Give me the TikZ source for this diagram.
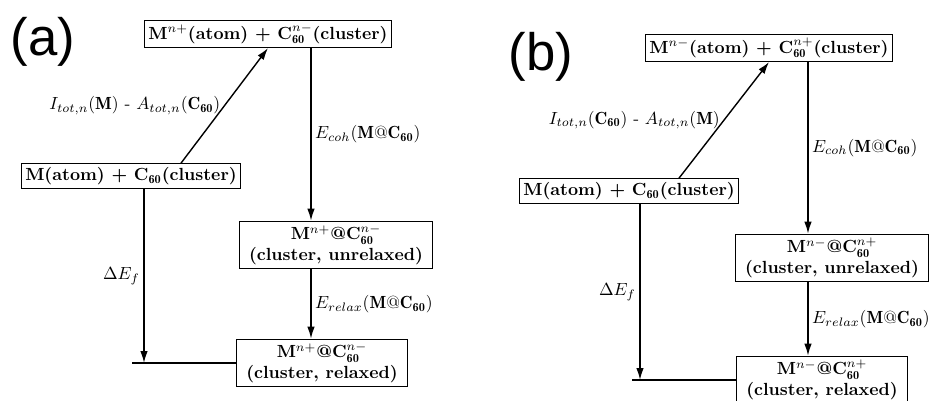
\documentclass[tikz,border=0pt]{standalone}
\usepackage{amsmath}
\usepackage{fontspec}
\usepackage{tikz}
\usetikzlibrary{arrows.meta,positioning,calc}
\newfontfamily\panelfont{Liberation Sans}
\tikzset{
  state/.style={draw, line width=0.6pt, inner sep=2pt, align=center, font=\bfseries},
  cage/.style={state, inner xsep=5.5pt},
  flow/.style={-{Latex[length=2.4mm,width=1.5mm]}, line width=0.8pt},
  tag/.style={font=\normalsize, inner sep=2pt},
  panel/.style={font=\panelfont\fontsize{30}{32}\selectfont},
}

\begin{document}
\begin{tikzpicture}[x=0.02cm, y=-0.02cm]
        \useasboundingbox (0,0) rectangle (929,401);
        % (a): charge moves from the atom to the cage
        \node[panel] (labA) at (43,42) {(a)};
        \node[state] (topA) at (268,34) {M$^{n+}$(atom) + C$_{\mathbf{60}}^{n-}$(cluster)};
        \node[state] (startA) at (131,176) {M(atom) + C$_{\mathbf{60}}$(cluster)};
        \node[cage] (unrelA) at (336,245) {M$^{n+}$@C$_{\mathbf{60}}^{n-}$\\(cluster, unrelaxed)};
        \node[cage] (relA) at (322,363) {M$^{n+}$@C$_{\mathbf{60}}^{n-}$\\(cluster, relaxed)};
        \coordinate (colA) at (311,0);
        \coordinate (dropA) at (144,0);
        \coordinate (kinkA) at (132,0);
        \draw[flow] ([xshift=1cm]startA.north) -- node[tag, left] {$I_{tot,n}(\mathbf{M})$ - $A_{tot,n}(\mathbf{C}_{\mathbf{60}})$} (topA.south);
        \draw[flow] (topA.south -| colA) -- node[tag, right] {$E_{coh}(\mathbf{M@C}_{\mathbf{60}})$} (unrelA.north -| colA);
        \draw[flow] (unrelA.south -| colA) -- node[tag, right] {$E_{relax}(\mathbf{M@C}_{\mathbf{60}})$} (relA.north -| colA);
        \draw[flow] (startA.south -| dropA) -- node[tag, left] {$\Delta E_f$} (relA.west -| dropA);
        \draw[line width=0.8pt] (relA.west -| kinkA) -- (relA.west);
        % (b): charge moves from the cage to the atom
        \node[panel] (labB) at (541,57) {(b)};
        \node[state] (topB) at (769,48) {M$^{n-}$(atom) + C$_{\mathbf{60}}^{n+}$(cluster)};
        \node[state] (startB) at (629,191) {M(atom) + C$_{\mathbf{60}}$(cluster)};
        \node[cage] (unrelB) at (832,258) {M$^{n-}$@C$_{\mathbf{60}}^{n+}$\\(cluster, unrelaxed)};
        \node[cage] (relB) at (822,380) {M$^{n-}$@C$_{\mathbf{60}}^{n+}$\\(cluster, relaxed)};
        \coordinate (colB) at (808,0);
        \coordinate (dropB) at (640,0);
        \coordinate (kinkB) at (632,0);
        \draw[flow] ([xshift=1cm]startB.north) -- node[tag, left] {$I_{tot,n}(\mathbf{C}_{\mathbf{60}})$ - $A_{tot,n}(\mathbf{M})$} (topB.south);
        \draw[flow] (topB.south -| colB) -- node[tag, right] {$E_{coh}(\mathbf{M@C}_{\mathbf{60}})$} (unrelB.north -| colB);
        \draw[flow] (unrelB.south -| colB) -- node[tag, right] {$E_{relax}(\mathbf{M@C}_{\mathbf{60}})$} (relB.north -| colB);
        \draw[flow] (startB.south -| dropB) -- node[tag, left] {$\Delta E_f$} (relB.west -| dropB);
        \draw[line width=0.8pt] (relB.west -| kinkB) -- (relB.west);
      \end{tikzpicture}
\end{document}
